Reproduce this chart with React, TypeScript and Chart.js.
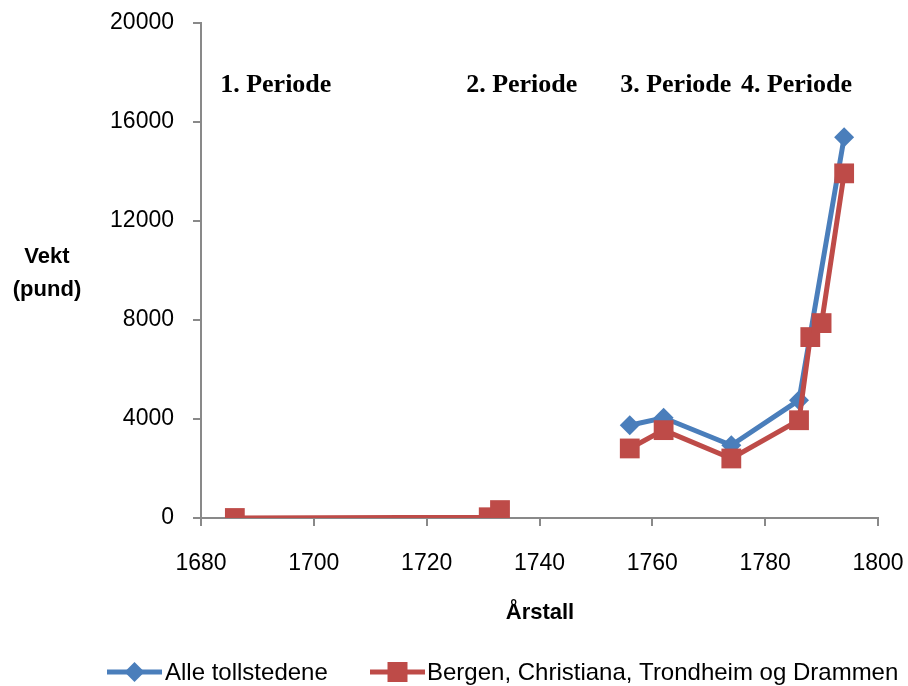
import React, { useEffect, useRef } from 'react';
import { Chart, registerables } from 'chart.js';

Chart.register(...registerables);

const seriesNames = ['Alle tollstedene', 'Bergen, Christiana, Trondheim og Drammen'];
const seriesColors = ['#4A7EBB', '#BE4B48'];

const blueYears = [1756, 1762, 1774, 1786, 1794];
const blueValues = [3750, 4050, 2940, 4760, 15380];

const redYears = [1686, 1731, 1733, 1745, 1756, 1762, 1774, 1786, 1788, 1790, 1794];
const redValues: (number | null)[] = [0, 30, 320, null, 2810, 3550, 2405, 3950, 7310, 7875, 13925];

const xMin = 1680;
const xMax = 1800;
const xStep = 20;
const yMin = 0;
const yMax = 20000;
const yStep = 4000;

const periodLabels = ['1. Periode', '2. Periode', '3. Periode', '4. Periode'];
const periodYears = [1683.4, 1727.0, 1754.3, 1775.7];
const periodValue = 17500;

const yTitle = ['Vekt', '(pund)'];
const xTitle = 'Årstall';

const TICK_FONT = '"Liberation Sans", Arial, sans-serif';

function drawMarker(ctx: CanvasRenderingContext2D, kind: number, x: number, y: number) {
  ctx.fillStyle = seriesColors[kind];
  ctx.beginPath();
  if (kind === 0) {
    const r = 10;
    ctx.moveTo(x - r, y);
    ctx.lineTo(x, y - r);
    ctx.lineTo(x + r, y);
    ctx.lineTo(x, y + r);
    ctx.closePath();
  } else {
    const s = 10;
    ctx.rect(x - s, y - s, 2 * s, 2 * s);
  }
  ctx.fill();
}

const decorPlugin = {
  id: 'decor',
  afterDraw(chart: any) {
    const ctx: CanvasRenderingContext2D = chart.ctx;
    const xs = chart.scales.x;
    const ys = chart.scales.y;
    ctx.save();
    // period labels
    ctx.fillStyle = '#000';
    ctx.font = 'bold 26px "Liberation Serif", "Times New Roman", serif';
    ctx.textAlign = 'left';
    ctx.textBaseline = 'middle';
    periodLabels.forEach((t, i) => {
      ctx.fillText(t, xs.getPixelForValue(periodYears[i]), ys.getPixelForValue(periodValue));
    });
    // y title
    ctx.font = 'bold 22px ' + TICK_FONT;
    ctx.textAlign = 'center';
    ctx.fillText(yTitle[0], 47, 257);
    ctx.fillText(yTitle[1], 47, 290);
    // x title
    ctx.fillText(xTitle, 540, 613);
    // legend
    ctx.font = '24px ' + TICK_FONT;
    ctx.textAlign = 'left';
    const ly = 672;
    const items = [
      { x0: 107, tx: 165 },
      { x0: 370, tx: 427 },
    ];
    items.forEach((it, k) => {
      ctx.strokeStyle = seriesColors[k];
      ctx.lineWidth = 5;
      ctx.beginPath();
      ctx.moveTo(it.x0, ly);
      ctx.lineTo(it.x0 + 55, ly);
      ctx.stroke();
      drawMarker(ctx, k, it.x0 + 27.5, ly);
      ctx.fillStyle = '#000';
      ctx.fillText(seriesNames[k], it.tx, ly + 1);
    });
    ctx.restore();
  },
};

export default function App() {
  const ref = useRef<HTMLCanvasElement | null>(null);
  useEffect(() => {
    if (!ref.current) return;
    const axisColor = '#898989';
    const chart = new Chart(ref.current, {
      type: 'line',
      data: {
        datasets: [
          {
            label: seriesNames[1],
            data: redYears.map((x, i) => ({ x, y: redValues[i] })),
            borderColor: seriesColors[1],
            backgroundColor: seriesColors[1],
            borderWidth: 5,
            pointStyle: 'rect',
            pointRadius: 14,
            pointBorderWidth: 0,
            spanGaps: false,
            tension: 0,
            order: 0,
          },
          {
            label: seriesNames[0],
            data: blueYears.map((x, i) => ({ x, y: blueValues[i] })),
            borderColor: seriesColors[0],
            backgroundColor: seriesColors[0],
            borderWidth: 5,
            pointStyle: 'rectRot',
            pointRadius: 10,
            pointBorderWidth: 0,
            tension: 0,
            order: 1,
          },
        ],
      },
      options: {
        animation: false,
        responsive: false,
        devicePixelRatio: 1,
        layout: { padding: { left: 0, right: 30, top: 23, bottom: 108 } },
        plugins: { legend: { display: false }, tooltip: { enabled: false } },
        scales: {
          x: {
            type: 'linear',
            min: xMin,
            max: xMax,
            afterFit: (s: any) => {
              s.height = 60;
              s.paddingLeft = 0;
              s.paddingRight = 0;
              s.paddingTop = 0;
              s.paddingBottom = 0;
            },
            ticks: {
              stepSize: xStep,
              padding: 24,
              color: '#000',
              font: { family: TICK_FONT, size: 23 },
              callback: (v: any) => String(v),
            },
            grid: { drawOnChartArea: false, drawTicks: true, tickLength: 8, color: axisColor, lineWidth: 2 },
            border: { color: axisColor, width: 2 },
          },
          y: {
            type: 'linear',
            min: yMin,
            max: yMax,
            afterFit: (s: any) => {
              s.width = 201;
              s.paddingLeft = 0;
              s.paddingRight = 0;
              s.paddingTop = 0;
              s.paddingBottom = 0;
            },
            ticks: {
              stepSize: yStep,
              padding: 19,
              color: '#000',
              font: { family: TICK_FONT, size: 23 },
              callback: (v: any) => String(v),
            },
            grid: { drawOnChartArea: false, drawTicks: true, tickLength: 8, color: axisColor, lineWidth: 2 },
            border: { color: axisColor, width: 2 },
          },
        },
      },
      plugins: [decorPlugin],
    });
    return () => chart.destroy();
  }, []);
  return (
    <div style={{ position: 'absolute', left: 0, top: 0, width: 908, height: 686, background: '#fff' }}>
      <canvas ref={ref} width={908} height={686} style={{ display: 'block' }} />
    </div>
  );
}
